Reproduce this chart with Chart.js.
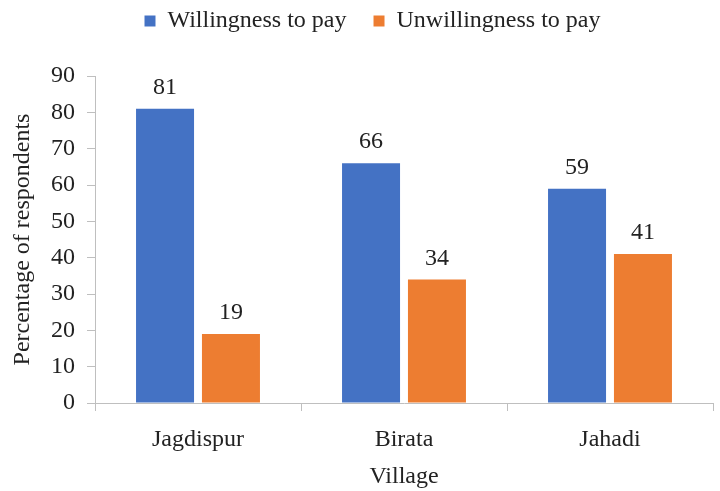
<!DOCTYPE html>
<html>
<head>
<meta charset="utf-8">
<script src="https://cdn.jsdelivr.net/npm/chart.js@4.4.0/dist/chart.umd.min.js"></script>
<style>
  html, body { margin: 0; padding: 0; background: #fff; }
  #wrap { width: 720px; height: 491px; }
</style>
</head>
<body>
<div id="wrap"><canvas id="village-chart" width="720" height="491"></canvas></div>
<script>
// Chart data
const villages = ['Jagdispur', 'Birata', 'Jahadi'];
const willing = [81, 66, 59];
const unwilling = [19, 34, 41];
const yTicks = [0, 10, 20, 30, 40, 50, 60, 70, 80, 90];

const serif = "'Liberation Serif', 'Times New Roman', serif";
const axisGrey = '#bfbfbf';
const fontSize = 24;

// draw the value over each bar
const barLabels = {
  id: 'barLabels',
  afterDatasetsDraw(chart) {
    const ctx = chart.ctx;
    ctx.save();
    ctx.font = fontSize + 'px ' + serif;
    ctx.fillStyle = '#222';
    ctx.textAlign = 'center';
    ctx.textBaseline = 'middle';
    chart.data.datasets.forEach(function (ds, i) {
      chart.getDatasetMeta(i).data.forEach(function (bar, j) {
        ctx.fillText(ds.data[j], bar.x, bar.y - 21);
      });
    });
    ctx.restore();
  }
};

// legend needs extra room under it, and sits a bit right of centre
const legendSpace = {
  id: 'legendSpace',
  afterInit(chart) {
    const lg = chart.legend;
    const fit = lg.fit;
    lg.fit = function () {
      fit.call(this);
      this.height += 33;
    };
  },
  afterLayout(chart) {
    chart.legend.left += 16;
    chart.legend.right += 16;
  }
};

var ctx = document.getElementById('village-chart').getContext('2d');
var villageChart = new Chart(ctx, {
  type: 'bar',
  data: {
    labels: villages,
    datasets: [
      {
        label: 'Willingness to pay',
        data: willing,
        backgroundColor: '#4472c4',
        categoryPercentage: 0.64,
        barPercentage: 0.88
      },
      {
        label: 'Unwillingness to pay',
        data: unwilling,
        backgroundColor: '#ed7d31',
        categoryPercentage: 0.64,
        barPercentage: 0.88
      }
    ]
  },
  options: {
    responsive: false,
    animation: false,
    layout: { padding: { left: 0, right: 7, top: -18, bottom: 0 } },
    plugins: {
      tooltip: { enabled: false },
      legend: {
        position: 'top',
        labels: {
          font: { family: serif, size: fontSize },
          color: '#222',
          boxWidth: 11,
          boxHeight: 11,
          padding: 27
        }
      }
    },
    scales: {
      x: {
        grid: {
          display: true,
          drawOnChartArea: false,
          drawTicks: true,
          tickLength: 8,
          color: axisGrey,
          offset: true
        },
        border: { color: axisGrey, width: 1 },
        ticks: {
          font: { family: serif, size: fontSize },
          color: '#222',
          padding: 14
        },
        title: {
          display: true,
          text: 'Village',
          font: { family: serif, size: fontSize },
          color: '#222',
          padding: { top: 8, bottom: 0 }
        },
        afterFit: function (scale) { scale.height = 88; }
      },
      y: {
        min: 0,
        max: 90,
        grid: {
          display: true,
          drawOnChartArea: false,
          drawTicks: true,
          tickLength: 8,
          color: axisGrey
        },
        border: { color: axisGrey, width: 1 },
        afterBuildTicks: function (scale) {
          scale.ticks = yTicks.map(function (v) { return { value: v }; });
        },
        ticks: {
          font: { family: serif, size: fontSize },
          color: '#222',
          padding: 12
        },
        title: {
          display: true,
          text: 'Percentage of respondents',
          font: { family: serif, size: fontSize },
          color: '#222',
          padding: { top: 8, bottom: 2 }
        },
        afterFit: function (scale) { scale.width = 95; }
      }
    }
  },
  plugins: [barLabels, legendSpace]
});
</script>
</body>
</html>
